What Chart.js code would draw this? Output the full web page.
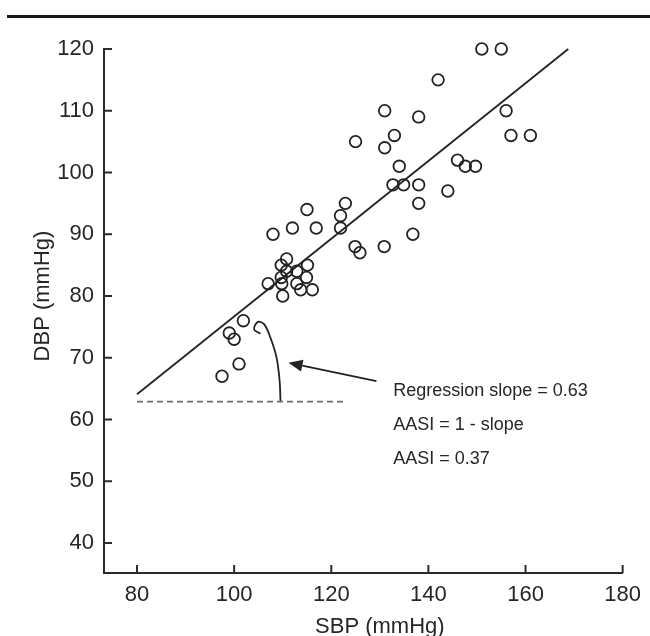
<!DOCTYPE html>
<html>
<head>
<meta charset="utf-8">
<script src="https://cdn.jsdelivr.net/npm/chart.js@4/dist/chart.umd.min.js"></script>
<style>
  body { margin: 0; background: #fff; }
  #wrap { position: relative; width: 650px; height: 636px; }
  .rule { position: absolute; left: 7px; right: 0; top: 15px; height: 3px; background: #1a1a1a; }
</style>
</head>
<body>
<div id="wrap">
  <div class="rule"></div>
  <canvas id="chart" width="650" height="636"></canvas>
</div>
<script>
// --- data ---
const sbp = [151, 155, 142, 131, 138, 156, 125, 133, 131, 157, 161, 134, 146, 147.6, 149.7,
  132.7, 134.9, 138, 144, 138, 136.8, 115, 122.9, 121.9, 121.9, 116.9, 108, 112, 124.9,
  125.9, 130.9, 110.8, 109.7, 110.8, 112.9, 115.1, 109.7, 114.9, 107, 109.8, 112.9, 113.7,
  116.1, 110, 101.9, 99, 100, 101, 97.5];
const dbp = [120, 120, 115, 110, 109, 110, 105, 106, 104, 106, 106, 101, 102, 101, 101,
  98, 98, 98, 97, 95, 90, 94, 95, 93, 91, 91, 90, 91, 88,
  87, 88, 86, 85, 84, 84, 85, 83, 83, 82, 82, 82, 81,
  81, 80, 76, 74, 73, 69, 67];

const regX = [80, 168.8];
const regY = [64.1, 120];
const baseX = [80, 123.2];
const baseY = [62.9, 62.9];
// angle hook drawn from the line down to the horizontal
const arcX = [105.4, 104.1, 104.9, 106.2, 107.4, 108.7, 109.35, 109.55];
const arcY = [73.9, 74.6, 75.8, 75.4, 73.4, 70.15, 66.4, 62.9];
const arrowFrom = [129.3, 66.2];
const arrowTo = [111.2, 69.2];

const notes = ['Regression slope = 0.63', 'AASI = 1 - slope', 'AASI = 0.37'];
const noteX = 132.75;
const noteY = [63.8, 58.3, 52.8];

const xTicks = [80, 100, 120, 140, 160, 180];
const yTicks = [40, 50, 60, 70, 80, 90, 100, 110, 120];
const xTitle = 'SBP (mmHg)';
const yTitle = 'DBP (mmHg)';

const ink = '#222';
const font = '"Liberation Sans", Arial, sans-serif';

const pts = (xs, ys) => xs.map((x, i) => ({ x: x, y: ys[i] }));

// inward tick marks, arrow, notes and axis titles
const extras = {
    id: 'extras',
    afterDraw(chart) {
        const ctx = chart.ctx;
        const xs = chart.scales.x, ys = chart.scales.y;
        const area = chart.chartArea;
        ctx.save();
        ctx.strokeStyle = '#2a2a2a';
        ctx.lineWidth = 2;
        xs.ticks.forEach(t => {
            const px = xs.getPixelForValue(t.value);
            ctx.beginPath();
            ctx.moveTo(px, area.bottom);
            ctx.lineTo(px, area.bottom - 8);
            ctx.stroke();
        });
        ys.ticks.forEach(t => {
            const py = ys.getPixelForValue(t.value);
            ctx.beginPath();
            ctx.moveTo(area.left, py);
            ctx.lineTo(area.left + 8, py);
            ctx.stroke();
        });

        // arrow
        const x0 = xs.getPixelForValue(arrowFrom[0]), y0 = ys.getPixelForValue(arrowFrom[1]);
        const x1 = xs.getPixelForValue(arrowTo[0]), y1 = ys.getPixelForValue(arrowTo[1]);
        const ang = Math.atan2(y1 - y0, x1 - x0);
        const hl = 14, hw = 6;
        const bx = x1 - hl * Math.cos(ang), by = y1 - hl * Math.sin(ang);
        ctx.strokeStyle = ink;
        ctx.lineWidth = 1.8;
        ctx.beginPath();
        ctx.moveTo(x0, y0);
        ctx.lineTo(bx, by);
        ctx.stroke();
        ctx.fillStyle = ink;
        ctx.beginPath();
        ctx.moveTo(x1, y1);
        ctx.lineTo(bx + hw * Math.sin(ang), by - hw * Math.cos(ang));
        ctx.lineTo(bx - hw * Math.sin(ang), by + hw * Math.cos(ang));
        ctx.closePath();
        ctx.fill();

        // notes
        ctx.fillStyle = '#262626';
        ctx.font = '18px ' + font;
        ctx.textAlign = 'left';
        ctx.textBaseline = 'alphabetic';
        notes.forEach((s, i) => {
            ctx.fillText(s, xs.getPixelForValue(noteX), ys.getPixelForValue(noteY[i]));
        });

        // axis titles, centred on the tick span
        ctx.font = '22px ' + font;
        ctx.textAlign = 'center';
        const xMid = xs.getPixelForValue((xTicks[0] + xTicks[xTicks.length - 1]) / 2);
        ctx.fillText(xTitle, xMid, 633);
        const yMid = ys.getPixelForValue((yTicks[0] + yTicks[yTicks.length - 1]) / 2);
        ctx.translate(49, yMid);
        ctx.rotate(-Math.PI / 2);
        ctx.fillText(yTitle, 0, 0);
        ctx.restore();
    }
};

new Chart(document.getElementById('chart'), {
    type: 'scatter',
    data: {
        datasets: [{
            data: pts(sbp, dbp),
            pointRadius: 5.8,
            pointBorderWidth: 1.8,
            borderColor: ink,
            backgroundColor: 'rgba(255,255,255,0)',
            clip: false
        }, {
            data: pts(regX, regY),
            showLine: true,
            pointRadius: 0,
            borderColor: ink,
            borderWidth: 1.8,
            clip: false
        }, {
            data: pts(baseX, baseY),
            showLine: true,
            pointRadius: 0,
            borderColor: '#6e6e6e',
            borderWidth: 1.8,
            borderDash: [6, 4]
        }, {
            data: pts(arcX, arcY),
            showLine: true,
            pointRadius: 0,
            borderColor: ink,
            borderWidth: 1.8,
            tension: 0.35
        }]
    },
    options: {
        responsive: false,
        animation: false,
        devicePixelRatio: 1,
        layout: { padding: { top: 49, right: 21, left: 0, bottom: 0 } },
        plugins: { legend: { display: false }, tooltip: { enabled: false } },
        scales: {
            x: {
                type: 'linear',
                min: 73.2,
                max: 180,
                afterBuildTicks: s => { s.ticks = xTicks.map(v => ({ value: v })); },
                afterFit: s => { s.height = 63; },
                grid: { drawOnChartArea: false, drawTicks: false },
                border: { color: '#2a2a2a', width: 2 },
                ticks: { color: '#262626', padding: 9, font: { family: font, size: 22 } }
            },
            y: {
                type: 'linear',
                min: 35.14,
                max: 120,
                afterBuildTicks: s => { s.ticks = yTicks.map(v => ({ value: v })); },
                afterFit: s => { s.width = 104; },
                grid: { drawOnChartArea: false, drawTicks: false },
                border: { color: '#2a2a2a', width: 2 },
                ticks: { color: '#262626', padding: 10, font: { family: font, size: 22 } }
            }
        }
    },
    plugins: [extras]
});
</script>
</body>
</html>
